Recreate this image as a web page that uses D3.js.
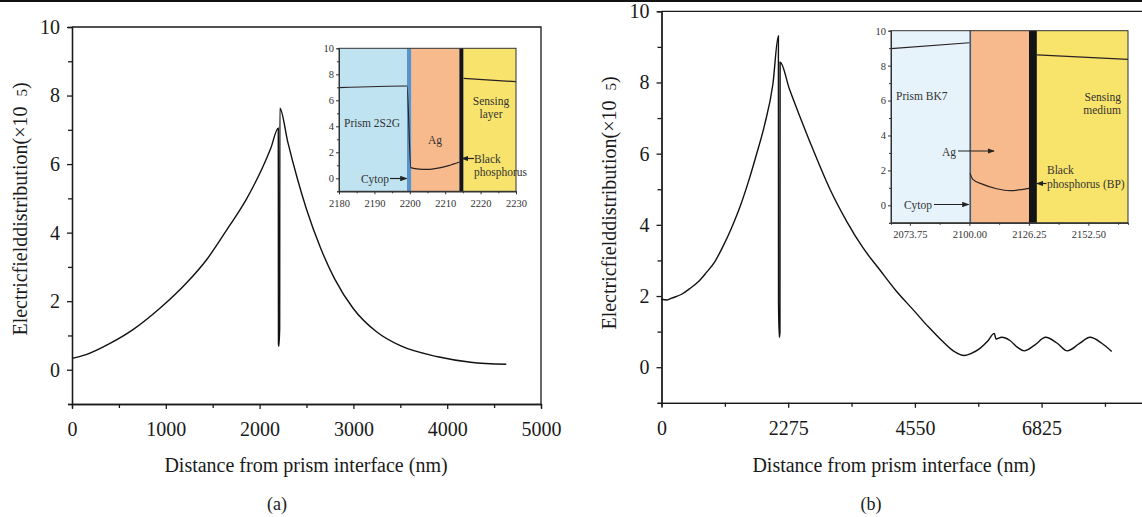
<!DOCTYPE html>
<html>
<head>
<meta charset="utf-8">
<script src="https://cdn.jsdelivr.net/npm/d3@7"></script>
<style>
  body { margin: 0; background: #fff; }
  svg { display: block; font-family: "Liberation Serif", "Times New Roman", serif; }
  .axis path, .axis line { stroke: #1a1a1a; stroke-width: 1.3; }
  .axis text { font-size: 20px; fill: #1a1a1a; font-family: "Liberation Serif", serif; }
  .inset .axis path, .inset .axis line { stroke: #333; stroke-width: 1; }
  .inset .axis text { font-size: 10.5px; fill: #333; }
  .frame { stroke: #1a1a1a; stroke-width: 1.3; fill: none; }
  .dataLine { fill: none; stroke: #111; stroke-width: 1.4; }
  .insetLine { fill: none; stroke: #2a2222; stroke-width: 1.2; }
  .note { font-size: 11.5px; fill: #333; }
</style>
</head>
<body>
<div id="vis"></div>
<script>
// panel (a) : prism 2S2G
var distA  = [0, 150, 400, 650, 940, 1220, 1435, 1650, 1775, 1860, 1950, 2040, 2120, 2199,
              2201, 2205, 2214, 2216, 2300, 2400, 2500, 2650, 2800, 3000, 3250, 3500, 3900, 4250, 4630];
var fieldA = [0.33, 0.44, 0.76, 1.17, 1.80, 2.53, 3.21, 4.08, 4.6, 4.98, 5.44, 5.95, 6.47, 7.05,
              0.75, 0.68, 1.20, 7.63, 6.65, 5.6, 4.68, 3.55, 2.65, 1.78, 1.1, 0.7, 0.38, 0.22, 0.16];

// panel (b) : prism BK7
var distB  = [0, 100, 181, 361, 500, 660, 800, 959, 1100, 1259, 1408, 1558, 1700, 1850, 2000, 2099,
              2101, 2115, 2127, 2130, 2300, 2486, 2725, 3025, 3325, 3620, 3922, 4200, 4521, 4800, 5000,
              5239, 5437, 5580, 5718, 5850, 5976, 6006, 6108, 6257, 6400, 6514, 6700, 6898, 7100, 7286,
              7500, 7694, 7900, 8084];
var fieldB = [1.91, 1.89, 1.94, 2.05, 2.2, 2.40, 2.65, 2.97, 3.38, 3.92, 4.5, 5.2, 5.95, 6.8, 7.95, 9.31,
              1.8, 0.84, 0.97, 8.57, 7.8, 7.04, 6.1, 5.0, 4.1, 3.35, 2.73, 2.17, 1.61, 1.12, 0.8,
              0.46, 0.33, 0.40, 0.53, 0.72, 0.95, 0.79, 0.84, 0.75, 0.55, 0.46, 0.62, 0.84, 0.68, 0.46,
              0.66, 0.84, 0.68, 0.44];

// insets (null = break in the line)
var insetDistA  = [2180, 2199.2, 2200.3, 2202, 2205, 2208, 2211, 2214, 2214.6, 2215.2, 2230];
var insetFieldA = [6.97, 7.1, 0.82, 0.72, 0.68, 0.78, 0.98, 1.25, null, 7.69, 7.43];
var layersA     = [2180, 2199.2, 2200.5, 2214, 2215.2, 2230];

var insetDistB  = [2065.4, 2100, 2100.1, 2100.3, 2101.5, 2106, 2112, 2118, 2123, 2126.3, 2128, 2129.8, 2170];
var insetFieldB = [8.97, 9.31, null, 1.83, 1.49, 1.2, 0.95, 0.84, 0.9, 0.97, null, 8.61, 8.36];
var layersB     = [2065.4, 2100, 2100.9, 2126.3, 2129.8, 2170];

var ticksA  = [0, 1000, 2000, 3000, 4000, 5000];
var ticksB  = [0, 2275, 4550, 6825];
var ticksY  = [0, 2, 4, 6, 8, 10];
var insetTicksXA = [2180, 2190, 2200, 2210, 2220, 2230];
var insetTicksXB = [2073.75, 2100.00, 2126.25, 2152.50];

var layerColorsA = ['#bfe3f1', '#5d92c4', '#f7ba8c', '#141414', '#f8e46c'];
var layerColorsB = ['#e7f3fb', '#4b5866', '#f7ba8c', '#141414', '#f9e46b'];

var width  = 1142;
var height = 517;

var svg = d3.select('#vis')
  .append('svg')
  .attr('width', width)
  .attr('height', height);

svg.append('defs').append('marker')
  .attr('id', 'arrow')
  .attr('viewBox', '0 0 8 6')
  .attr('refX', 7)
  .attr('refY', 3)
  .attr('markerWidth', 6)
  .attr('markerHeight', 4.5)
  .attr('orient', 'auto')
  .append('path')
  .attr('d', 'M0,0L8,3L0,6Z')
  .attr('fill', '#222');

// black rule at the top
svg.append('rect')
  .attr('x', 0).attr('y', 0)
  .attr('width', width).attr('height', 2)
  .attr('fill', '#111');

function toPoints(xs, ys) {
  return xs.map(function(x, i){ return {x: x, y: ys[i]}; });
}

function mainPanel(opt) {
  var g = svg.append('g');
  var xScale = d3.scaleLinear().domain(opt.xDomain).range(opt.xRange);
  var yScale = d3.scaleLinear().domain([-1, 10]).range(opt.yRange);
  var x0 = opt.xRange[0], x1 = opt.xRange[1];
  var y0 = opt.yRange[0], y1 = opt.yRange[1];

  // frame top + right
  g.append('path')
    .attr('class', 'frame')
    .attr('d', 'M' + x0 + ',' + y1 + 'H' + x1 + 'V' + y0);

  // minor ticks
  g.append('g').attr('class', 'axis')
    .attr('transform', 'translate(' + x0 + ',0)')
    .call(d3.axisLeft(yScale).tickValues([-1, 1, 3, 5, 7, 9]).tickSize(4).tickFormat(''));
  g.append('g').attr('class', 'axis')
    .attr('transform', 'translate(0,' + y0 + ')')
    .call(d3.axisBottom(xScale).tickValues(opt.minorX).tickSize(4).tickFormat(''));

  g.append('g').attr('class', 'axis')
    .attr('transform', 'translate(' + x0 + ',0)')
    .call(d3.axisLeft(yScale).tickValues(ticksY).tickSize(5).tickPadding(7).tickSizeOuter(0));
  g.append('g').attr('class', 'axis')
    .attr('transform', 'translate(0,' + y0 + ')')
    .call(d3.axisBottom(xScale).tickValues(opt.ticks).tickSize(5).tickPadding(13).tickSizeOuter(0)
      .tickFormat(d3.format('d')));

  var line = d3.line()
    .x(function(d){ return xScale(d.x); })
    .y(function(d){ return yScale(d.y); })
    .curve(d3.curveMonotoneX);

  g.append('path')
    .attr('d', line(toPoints(opt.dist, opt.field)))
    .attr('class', 'dataLine');

  // axis titles
  g.append('text')
    .attr('x', opt.titleX)
    .attr('y', 472)
    .attr('text-anchor', 'middle')
    .style('font-size', '20px')
    .attr('fill', '#1a1a1a')
    .text('Distance from prism interface (nm)');

  var yl = g.append('text')
    .attr('transform', 'translate(' + opt.yLabelX + ',' + opt.yLabelY + ') rotate(-90)')
    .attr('text-anchor', 'middle')
    .style('font-size', '20px')
    .attr('fill', '#1a1a1a');
  yl.append('tspan').text('Electricfielddistribution(\u00d710');
  yl.append('tspan').attr('dx', 10).style('font-size', '15px').text('5');
  yl.append('tspan').text(')');

  g.append('text')
    .attr('x', opt.capX)
    .attr('y', 510)
    .attr('text-anchor', 'middle')
    .style('font-size', '18px')
    .attr('fill', '#1a1a1a')
    .text(opt.caption);
}

function inset(opt) {
  var g = svg.append('g').attr('class', 'inset');
  var xScale = d3.scaleLinear().domain([opt.layers[0], opt.layers[opt.layers.length - 1]]).range(opt.xRange);
  var yScale = d3.scaleLinear().domain([-1, 10]).range(opt.yRange);
  var x0 = opt.xRange[0], x1 = opt.xRange[1];
  var y0 = opt.yRange[0], y1 = opt.yRange[1];

  for (var i = 0; i < opt.layers.length - 1; i++) {
    g.append('rect')
      .attr('x', xScale(opt.layers[i]))
      .attr('y', y1)
      .attr('width', xScale(opt.layers[i + 1]) - xScale(opt.layers[i]))
      .attr('height', y0 - y1)
      .attr('fill', opt.colors[i]);
  }

  var line = d3.line()
    .defined(function(d){ return d.y != null; })
    .x(function(d){ return xScale(d.x); })
    .y(function(d){ return yScale(d.y); })
    .curve(d3.curveMonotoneX);

  g.append('path')
    .attr('d', line(toPoints(opt.dist, opt.field)))
    .attr('class', 'insetLine');

  g.append('rect')
    .attr('x', x0).attr('y', y1)
    .attr('width', x1 - x0).attr('height', y0 - y1)
    .attr('fill', 'none')
    .attr('stroke', '#333')
    .attr('stroke-width', 1);

  g.append('g').attr('class', 'axis')
    .attr('transform', 'translate(' + x0 + ',0)')
    .call(d3.axisLeft(yScale).tickValues([-1, 1, 3, 5, 7, 9]).tickSize(2).tickFormat(''));
  g.append('g').attr('class', 'axis')
    .attr('transform', 'translate(' + x0 + ',0)')
    .call(d3.axisLeft(yScale).tickValues(ticksY).tickSize(3).tickPadding(2).tickSizeOuter(0));
  g.append('g').attr('class', 'axis')
    .attr('transform', 'translate(0,' + y0 + ')')
    .call(d3.axisBottom(xScale).tickValues(opt.minorX).tickSize(2).tickFormat(''));
  g.append('g').attr('class', 'axis')
    .attr('transform', 'translate(0,' + y0 + ')')
    .call(d3.axisBottom(xScale).tickValues(opt.ticks).tickSize(3).tickPadding(5).tickSizeOuter(0)
      .tickFormat(opt.fmt));

  opt.notes.forEach(function(n){
    g.append('text')
      .attr('class', 'note')
      .attr('x', n[0]).attr('y', n[1])
      .attr('text-anchor', n[2])
      .text(n[3]);
  });
  opt.arrows.forEach(function(a){
    g.append('line')
      .attr('x1', a[0]).attr('y1', a[1])
      .attr('x2', a[2]).attr('y2', a[1])
      .attr('stroke', '#222')
      .attr('stroke-width', 1.2)
      .attr('marker-end', 'url(#arrow)');
  });
}

mainPanel({
  dist: distA, field: fieldA,
  xDomain: [0, 5000], xRange: [72, 541], yRange: [404, 27],
  ticks: ticksA, minorX: [500, 1500, 2500, 3500, 4500],
  titleX: 306, yLabelX: 27, yLabelY: 209, capX: 277, caption: '(a)'
});

mainPanel({
  dist: distB, field: fieldB,
  xDomain: [0, 9100], xRange: [661.5, 1168.3], yRange: [402.8, 11.3],
  ticks: ticksB, minorX: [1137.5, 3412.5, 5687.5, 7962.5],
  titleX: 894, yLabelX: 616, yLabelY: 203, capX: 871, caption: '(b)'
});

inset({
  dist: insetDistA, field: insetFieldA, layers: layersA, colors: layerColorsA,
  xRange: [339, 516], yRange: [191.3, 48.3],
  ticks: insetTicksXA, minorX: [2185, 2195, 2205, 2215, 2225], fmt: d3.format('d'),
  notes: [
    [372, 127, 'middle', 'Prism 2S2G'],
    [435, 144, 'middle', 'Ag'],
    [491, 105, 'middle', 'Sensing'],
    [491, 118, 'middle', 'layer'],
    [389, 182.5, 'end', 'Cytop'],
    [474, 163, 'start', 'Black'],
    [474, 176, 'start', 'phosphorus']
  ],
  arrows: [[390, 178.5, 406.5], [474, 158.5, 462]]
});

inset({
  dist: insetDistB, field: insetFieldB, layers: layersB, colors: layerColorsB,
  xRange: [891, 1128], yRange: [222.8, 30.7],
  ticks: insetTicksXB, minorX: [2086.875, 2113.125, 2139.375, 2165.625], fmt: d3.format('.2f'),
  notes: [
    [896, 100, 'start', 'Prism BK7'],
    [1121, 101, 'end', 'Sensing'],
    [1121, 114, 'end', 'medium'],
    [956, 156, 'end', 'Ag'],
    [1047, 174, 'start', 'Black'],
    [1047, 188, 'start', 'phosphorus (BP)'],
    [932, 209, 'end', 'Cytop']
  ],
  arrows: [[958, 151, 994], [1046.5, 183.5, 1037], [934, 204.5, 968.5]]
});
</script>
</body>
</html>
